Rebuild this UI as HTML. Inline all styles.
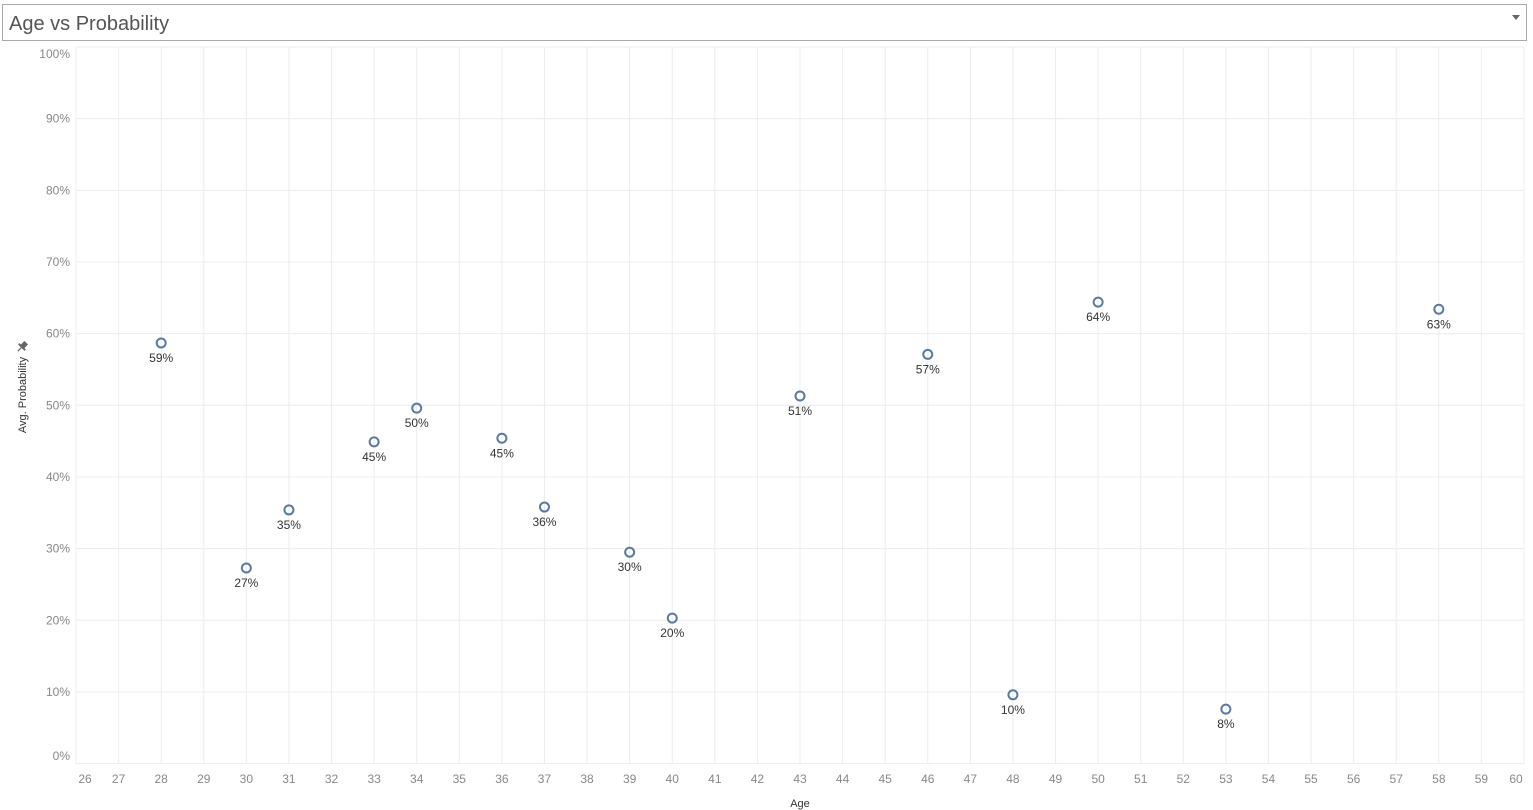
<!DOCTYPE html>
<html><head><meta charset="utf-8">
<style>
body{margin:0;width:1533px;height:810px;background:#fff;overflow:hidden;font-family:"Liberation Sans",sans-serif;}
#title{position:absolute;left:2px;top:4px;width:1525px;height:37px;border:1px solid #aaa;box-sizing:border-box;}
#title span{position:absolute;left:6px;top:8px;font-size:20px;color:#555;}
#title i{position:absolute;right:6px;top:10px;width:0;height:0;border-left:4px solid transparent;border-right:4px solid transparent;border-top:5px solid #666;}
svg{position:absolute;left:0;top:0;}
</style></head><body>
<div id="title"><span>Age vs Probability</span><i></i></div>
<svg id="chart" width="1533" height="810"></svg>
<script>
const ages=[28,30,31,33,34,36,37,39,40,43,46,48,50,53,58];
const probs=[58.7,27.3,35.4,44.9,49.6,45.4,35.8,29.5,20.3,51.3,57.1,9.6,64.4,7.6,63.4];
const xTicks=[26,27,28,29,30,31,32,33,34,35,36,37,38,39,40,41,42,43,44,45,46,47,48,49,50,51,52,53,54,55,56,57,58,59,60];
const yTicks=[0,10,20,30,40,50,60,70,80,90,100];
const X0=76,X1=1524,Y0=763.6,Y1=47;
const xs=v=>X0+(v-26)/(60-26)*(X1-X0);
const ys=v=>Y0-v/100*(Y0-Y1);
const svg=document.getElementById('chart');
const NS='http://www.w3.org/2000/svg';
function mk(t,a,p){const e=document.createElementNS(NS,t);for(const k in a)e.setAttribute(k,a[k]);(p||svg).appendChild(e);return e;}
yTicks.forEach(v=>{
  const l=mk('line',{x1:X0,x2:X1,y1:ys(v),y2:ys(v),stroke:'#ececec','stroke-width':1});
  
  
  let ty=ys(v)+4; if(v===100)ty=58; if(v===0)ty=760;
  const t=mk('text',{x:70,y:ty,'text-anchor':'end','font-size':12,fill:'#888'});
  t.textContent=v+'%';
  
  
});
xTicks.forEach(v=>{
  const l=mk('line',{x1:xs(v),x2:xs(v),y1:Y1,y2:Y0,stroke:'#ececec','stroke-width':1});
  
  
  let tx=xs(v); if(v===26)tx=85; if(v===60)tx=1516;
  const t=mk('text',{x:tx,y:783,'text-anchor':'middle','font-size':12,fill:'#888'});
  t.textContent=v;
  
  
});
const xt=mk('text',{x:800,y:807,'text-anchor':'middle','font-size':11,fill:'#333'});
xt.textContent='Age';


const yt=mk('text',{x:0,y:0,'text-anchor':'middle','font-size':11,fill:'#333',transform:'translate(26,395) rotate(-90)'});
yt.textContent='Avg. Probability';


const pin=mk('g',{transform:'translate(22,347) rotate(45)'});


mk('rect',{x:-2.5,y:-6,width:5,height:6,fill:'#666'},pin);
mk('rect',{x:-4.5,y:-1,width:9,height:2,fill:'#666'},pin);
mk('line',{x1:0,y1:1,x2:0,y2:6,stroke:'#666','stroke-width':1.2},pin);
ages.forEach((a,i)=>{
  const c=mk('circle',{cx:xs(a),cy:ys(probs[i]),r:4.5,fill:'none',stroke:'#5a7aa0','stroke-width':2});
  
  
  const t=mk('text',{x:xs(a),y:ys(probs[i])+19,'text-anchor':'middle','font-size':12,fill:'#333'});
  t.textContent=Math.round(probs[i])+'%';
  
  
});
</script>
</body></html>
